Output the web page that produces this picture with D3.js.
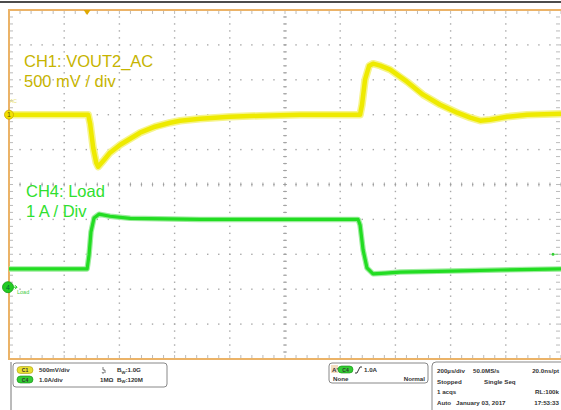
<!DOCTYPE html>
<html>
<head>
<meta charset="utf-8">
<script src="https://cdn.jsdelivr.net/npm/d3@7"></script>
<style>
  html, body { margin: 0; padding: 0; background: #fff; }
  svg { display: block; font-family: 'Liberation Sans', Arial, sans-serif; }
</style>
</head>
<body>
<script>
// scope capture: load transient, 200us/div
// CH1 = VOUT2 (AC, mV), CH4 = load current (A); time in us from trigger
const ch1Time = [-283, 4, 11, 22, 33, 40, 62, 83, 120, 156, 192, 246, 301, 337, 409, 518, 627, 772, 989, 996, 1007, 1022, 1036, 1062, 1098, 1159, 1217, 1279, 1341, 1388, 1424, 1460, 1522, 1594, 1717]
const ch1Volt = [0, 0, -129, -473, -688, -745, -645, -544, -430, -344, -258, -172, -115, -86, -57, -29, -14, 0, 0, 143, 501, 702, 731, 702, 645, 473, 287, 143, 29, -43, -86, -72, -29, 0, 14]

const ch4Time = [-283, 0, 7, 14, 25, 43, 83, 156, 409, 772, 982, 989, 1000, 1014, 1036, 1080, 1134, 1315, 1496, 1717]
const ch4Amp = [0.58, 0.58, 0.98, 1.64, 2.04, 2.15, 2.09, 2.03, 2.0, 2.0, 2.0, 1.84, 1.12, 0.61, 0.44, 0.46, 0.49, 0.52, 0.55, 0.58]

const ch1Scale = 500   // mV per div
const ch1Offset = 2    // divs above centre
const ch4Scale = 1     // A per div
const ch4Offset = -3
const timeRange = [-283, 1717]

const leftPanel = [
  {ch: 'C1', scale: '500mV/div', term: '', bw: '1.0G'},
  {ch: 'C4', scale: '1.0A/div', term: '1M\u03A9', bw: '120M'}
]
const acqRows = [
  ['200\u00B5s/div', '50.0MS/s', '20.0ns/pt'],
  ['Stopped', 'Single Seq', ''],
  ['1 acqs', '', 'RL:100k'],
  ['Auto', 'January 03, 2017', '17:53:33']
]

const m = {top: 10, right: 0, bottom: 51, left: 9}
const W = 561, H = 410
const w = W - m.left - m.right
const h = H - m.top - m.bottom

const svg = d3.select('body').append('svg')
  .attr('width', W)
  .attr('height', H)

const x = d3.scaleLinear().domain(timeRange).range([m.left, m.left + w])
const xDiv = d3.scaleLinear().domain([-5, 5]).range([m.left, m.left + w])
const yDiv = d3.scaleLinear().domain([-5, 5]).range([m.top + h, m.top])

// top black rule
svg.append('line')
  .attr('x1', 0).attr('x2', W).attr('y1', 2).attr('y2', 2)
  .style('stroke', '#111').style('stroke-width', 1.5)

// graticule dots
const grid = svg.append('g')
const minors = d3.range(-5, 5.01, 0.2)
const majors = d3.range(-4, 5, 1)
majors.forEach(function(k) {
  grid.selectAll(null).data(minors).enter().append('rect')
    .attr('x', d => xDiv(d) - 0.7).attr('y', yDiv(k) - 0.7)
    .attr('width', 1.4).attr('height', 1.4)
    .style('fill', '#a8a8a8')
  grid.selectAll(null).data(minors).enter().append('rect')
    .attr('x', xDiv(k) - 0.7).attr('y', d => yDiv(d) - 0.7)
    .attr('width', 1.4).attr('height', 1.4)
    .style('fill', '#a8a8a8')
})
// centre cross ticks
grid.selectAll(null).data(minors).enter().append('line')
  .attr('x1', d => xDiv(d)).attr('x2', d => xDiv(d))
  .attr('y1', yDiv(0) - 2).attr('y2', yDiv(0) + 2)
  .style('stroke', '#999').style('stroke-width', 0.8)
grid.selectAll(null).data(minors).enter().append('line')
  .attr('y1', d => yDiv(d)).attr('y2', d => yDiv(d))
  .attr('x1', xDiv(0) - 2).attr('x2', xDiv(0) + 2)
  .style('stroke', '#999').style('stroke-width', 0.8)
// border ticks
grid.selectAll(null).data(minors).enter().append('line')
  .attr('x1', d => xDiv(d)).attr('x2', d => xDiv(d))
  .attr('y1', m.top).attr('y2', m.top + 4)
  .style('stroke', '#aaa').style('stroke-width', 0.8)
grid.selectAll(null).data(minors).enter().append('line')
  .attr('x1', d => xDiv(d)).attr('x2', d => xDiv(d))
  .attr('y1', m.top + h).attr('y2', m.top + h - 4)
  .style('stroke', '#aaa').style('stroke-width', 0.8)
grid.selectAll(null).data(minors).enter().append('line')
  .attr('y1', d => yDiv(d)).attr('y2', d => yDiv(d))
  .attr('x1', m.left).attr('x2', m.left + 4)
  .style('stroke', '#aaa').style('stroke-width', 0.8)
grid.selectAll(null).data(minors).enter().append('line')
  .attr('y1', d => yDiv(d)).attr('y2', d => yDiv(d))
  .attr('x1', W - 1).attr('x2', W - 5)
  .style('stroke', '#aaa').style('stroke-width', 0.8)

// orange frame (left, top, bottom)
svg.append('path')
  .attr('d', 'M' + W + ',' + m.top + 'H' + m.left + 'V' + (m.top + h) + 'H' + W)
  .style('fill', 'none').style('stroke', '#ebb368').style('stroke-width', 2)

// traces
const line1 = d3.line()
  .x((d, i) => x(ch1Time[i]))
  .y(d => yDiv(d / ch1Scale + ch1Offset))
const line4 = d3.line()
  .x((d, i) => x(ch4Time[i]))
  .y(d => yDiv(d / ch4Scale + ch4Offset))

const traces = svg.append('g')
traces.append('path').attr('d', line1(ch1Volt))
  .style('fill', 'none').style('stroke', '#f6f48c').style('stroke-width', 7.5)
  .style('stroke-linejoin', 'round')
traces.append('path').attr('d', line1(ch1Volt))
  .style('fill', 'none').style('stroke', '#eeea00').style('stroke-width', 4.5)
  .style('stroke-linejoin', 'round')
traces.append('path').attr('d', line4(ch4Amp))
  .style('fill', 'none').style('stroke', '#9cec9c').style('stroke-width', 5.5)
  .style('stroke-linejoin', 'round')
traces.append('path').attr('d', line4(ch4Amp))
  .style('fill', 'none').style('stroke', '#22dd22').style('stroke-width', 3.2)
  .style('stroke-linejoin', 'round')

// channel labels
const lab = svg.append('g').style('font-size', '16.5px')
lab.append('text').attr('x', 24).attr('y', 67).text('CH1: VOUT2_AC').style('fill', '#c6b400')
lab.append('text').attr('x', 24).attr('y', 87).text('500 mV / div').style('fill', '#c6b400')
lab.append('text').attr('x', 26).attr('y', 197).text('CH4: Load').style('fill', '#2fe02f')
lab.append('text').attr('x', 26).attr('y', 217).text('1 A / Div').style('fill', '#2fe02f')

// channel / trigger markers
const c1y = yDiv(ch1Offset), c4y = yDiv(ch4Offset)
svg.append('circle').attr('cx', m.left).attr('cy', c1y).attr('r', 4.5)
  .style('fill', '#f2e200').style('stroke', '#c8a800').style('stroke-width', 0.8)
svg.append('text').attr('x', m.left).attr('y', c1y + 2.5).attr('text-anchor', 'middle')
  .style('font-size', '7px').style('fill', '#665500').text('1')
svg.append('text').attr('x', 10).attr('y', 103)
  .style('font-size', '5px').style('fill', '#e8e070').text('AC')

svg.append('circle').attr('cx', m.left - 1).attr('cy', c4y - 2).attr('r', 5.5)
  .style('fill', '#22cc22').style('stroke', '#119911').style('stroke-width', 0.8)
svg.append('text').attr('x', m.left - 1).attr('y', c4y + 0.5).attr('text-anchor', 'middle')
  .style('font-size', '7px').style('fill', '#063').text('4')
svg.append('path').attr('d', 'M13,' + (c4y - 2) + 'h4m-2,-2l2,2l-2,2')
  .style('fill', 'none').style('stroke', '#22cc22').style('stroke-width', 1)
svg.append('text').attr('x', 17).attr('y', c4y + 4.5)
  .style('font-size', '5.5px').style('fill', '#44cc44').text('Load')

// trigger position (top) and level (right)
svg.append('path')
  .attr('d', 'M' + (x(0) - 3.5) + ',' + m.top + 'h7l-3.5,5z')
  .style('fill', '#e0a800')
svg.append('circle').attr('cx', 553).attr('cy', yDiv(ch4Offset + 1.0)).attr('r', 1.5)
  .style('fill', '#33cc33')
svg.append('line').attr('x1', 554).attr('x2', 558)
  .attr('y1', yDiv(ch4Offset + 1.0)).attr('y2', yDiv(ch4Offset + 1.0))
  .style('stroke', '#77dd77').style('stroke-width', 1)

// bottom info panel
const info = svg.append('g').style('font-size', '6.2px').style('font-weight', 'bold').style('fill', '#333')
info.append('line').attr('x1', 11).attr('x2', 11).attr('y1', 362).attr('y2', H)
  .style('stroke', '#777').style('stroke-width', 1)
info.append('rect').attr('x', 13).attr('y', 363).attr('width', 154).attr('height', 24).attr('rx', 3)
  .style('fill', '#fff').style('stroke', '#888').style('stroke-width', 1)

const pillColors = {C1: ['#e8df30', '#a89a10'], C4: ['#33cc33', '#118811']}
leftPanel.forEach(function(d, i) {
  const yy = 370 + i * 9.5
  info.append('rect').attr('x', 17).attr('y', yy - 3.5).attr('width', 16).attr('height', 7).attr('rx', 3.5)
    .style('fill', pillColors[d.ch][0]).style('stroke', pillColors[d.ch][1]).style('stroke-width', 0.6)
  info.append('text').attr('x', 25).attr('y', yy + 2).attr('text-anchor', 'middle')
    .style('font-size', '5px').style('fill', '#333').text(d.ch)
  info.append('text').attr('x', 39).attr('y', yy + 2.3).text(d.scale)
  if (d.term) {
    info.append('text').attr('x', 100).attr('y', yy + 2.3).text(d.term)
  } else {
    // DC coupling glyph
    info.append('path').attr('d', 'M103,' + (yy - 3) + 'v3l2,0v3m-3,-1l1,1.5l1,-1.5')
      .style('fill', 'none').style('stroke', '#444').style('stroke-width', 0.7)
  }
  const bw = info.append('text').attr('x', 117).attr('y', yy + 2.3)
  bw.append('tspan').text('B')
  bw.append('tspan').attr('dy', 1.5).style('font-size', '4.2px').text('W')
  bw.append('tspan').attr('dy', -1.5).text(':' + d.bw)
})

// trigger box
info.append('rect').attr('x', 329).attr('y', 363).attr('width', 99).attr('height', 20).attr('rx', 3)
  .style('fill', '#fff').style('stroke', '#888').style('stroke-width', 1)
info.append('rect').attr('x', 331).attr('y', 365).attr('width', 7).attr('height', 8)
  .style('fill', '#f3dcc0')
info.append('text').attr('x', 332).attr('y', 371.5).text("A'")
info.append('rect').attr('x', 338).attr('y', 366).attr('width', 15).attr('height', 7).attr('rx', 3.5)
  .style('fill', '#33cc33').style('stroke', '#118811').style('stroke-width', 0.6)
info.append('text').attr('x', 345.5).attr('y', 371.5).attr('text-anchor', 'middle')
  .style('font-size', '5px').text('C4')
info.append('path').attr('d', 'M355,373h2l3,-6h2')
  .style('fill', 'none').style('stroke', '#333').style('stroke-width', 1)
info.append('text').attr('x', 364).attr('y', 372).text('1.0A')
info.append('text').attr('x', 333).attr('y', 380.5).text('None')
info.append('text').attr('x', 425).attr('y', 380.5).attr('text-anchor', 'end').text('Normal')

// acquisition box
info.append('path').attr('d', 'M' + (W + 2) + ',362H436a4,4 0 0 0 -4,4V' + (H + 2))
  .style('fill', '#fff').style('stroke', '#888').style('stroke-width', 1)
const colX = [437, 473, 559]
acqRows.forEach(function(r, i) {
  const yy = 373 + i * 10.7
  info.append('text').attr('x', colX[0]).attr('y', yy).text(r[0])
  if (i === 3) {
    info.append('text').attr('x', 456).attr('y', yy).text(r[1])
  } else {
    info.append('text').attr('x', i === 1 ? 484 : colX[1]).attr('y', yy).text(r[1])
  }
  info.append('text').attr('x', colX[2]).attr('y', yy).attr('text-anchor', 'end').text(r[2])
})
</script>
</body>
</html>
